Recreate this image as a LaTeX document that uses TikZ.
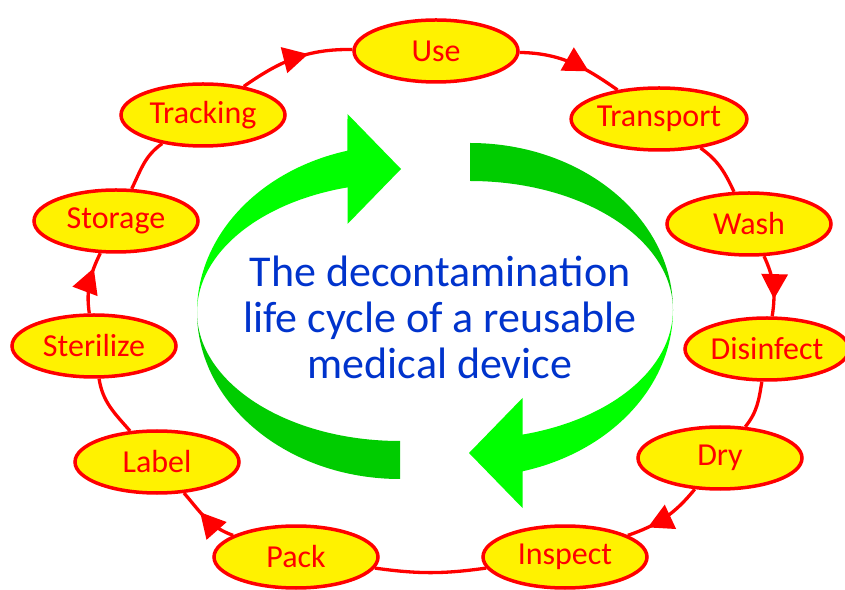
\documentclass[tikz,border=0pt]{standalone}
\usepackage{fontspec}
\setmainfont{Carlito}
\usetikzlibrary{arrows.meta,decorations.markings,shapes.geometric}
\definecolor{brightgreen}{HTML}{00FF00}
\definecolor{darkgreen}{HTML}{00CC00}
\definecolor{titleblue}{HTML}{0033CC}
\definecolor{nodered}{HTML}{FF0000}
\tikzset{
  stage/.style={ellipse, draw=nodered, line width=3.5pt, fill=yellow,
    minimum width=164pt, minimum height=62pt, inner sep=0pt,
    text=nodered, font=\fontsize{32}{38}\selectfont},
  ring/.style={draw=nodered, line width=3.3pt},
  midarrow/.style={postaction={decorate,decoration={markings,
    mark=at position #1 with {\arrow{Triangle[length=25pt,width=26pt]}}}}}
}
\begin{document}
\begin{tikzpicture}[x=1pt,y=1pt]
\useasboundingbox (0,0) rectangle (845,589);
% green circular arrows
\begin{scope}[shift={(400,277)}]
  \fill[darkgreen] (-203,0) arc[start angle=180,end angle=270,x radius=203,y radius=167]
    -- (0,-129) arc[start angle=270,end angle=180,x radius=203,y radius=129] -- cycle;
  \fill[brightgreen] (-203,0) arc[start angle=180,end angle=105,x radius=203,y radius=167]
    -- (-52.5,198) -- (1,143) -- (-52.5,88) -- (-52.5,124.6)
    arc[start angle=105,end angle=180,x radius=203,y radius=129] -- cycle;
\end{scope}
\begin{scope}[shift={(470,279)}]
  \fill[darkgreen] (203,0) arc[start angle=0,end angle=90,x radius=203,y radius=167]
    -- (0,129) arc[start angle=90,end angle=0,x radius=203,y radius=129] -- cycle;
  \fill[brightgreen] (203,0) arc[start angle=0,end angle=-75,x radius=203,y radius=167]
    -- (52.5,-198) -- (-1,-143) -- (52.5,-88) -- (52.5,-124.6)
    arc[start angle=-75,end angle=0,x radius=203,y radius=129] -- cycle;
\end{scope}
% title
\node[text=titleblue, font=\fontsize{44}{46}\selectfont, align=center] (title) at (440,271.5)
  {The decontamination\\life cycle of a reusable\\medical device};
% stages
\node[stage] (use) at (436,538) {Use};
\node[stage] (transport) at (659,470) {Transport};
\node[stage] (wash) at (749,365) {Wash};
\node[stage] (disinfect) at (767,240) {Disinfect};
\node[stage] (dry) at (720,131) {Dry};
\node[stage] (inspect) at (565,32) {Inspect};
\node[stage] (pack) at (296,32) {Pack};
\node[stage] (label) at (157,127) {Label};
\node[stage] (sterilize) at (94,243) {Sterilize};
\node[stage] (storage) at (116,368) {Storage};
\node[stage] (tracking) at (203,474) {Tracking};
% ring connectors
\draw[ring, midarrow=0.68] (use) to[out=-1,in=145] (transport);
\draw[ring] (transport) to[out=-35,in=115] (wash);
\draw[ring, midarrow=0.72] (wash) to[out=-65,in=81] (disinfect);
\draw[ring] (disinfect) to[out=-99,in=51] (dry);
\draw[ring, midarrow=0.74] (dry) to[out=-129,in=19] (inspect);
\draw[ring] (inspect) to[out=-172,in=-8] (pack);
\draw[ring, midarrow=0.62] (pack) to[out=161,in=-49] (label);
\draw[ring, midarrow=0.74] (sterilize) to[out=98.5,in=-116] (storage);
\draw[ring] (label) to[out=131,in=-81.5] (sterilize);
\draw[ring] (storage) to[out=64,in=-145] (tracking);
\draw[ring, midarrow=0.62] (tracking) to[out=35,in=179] (use);
\end{tikzpicture}
\end{document}
